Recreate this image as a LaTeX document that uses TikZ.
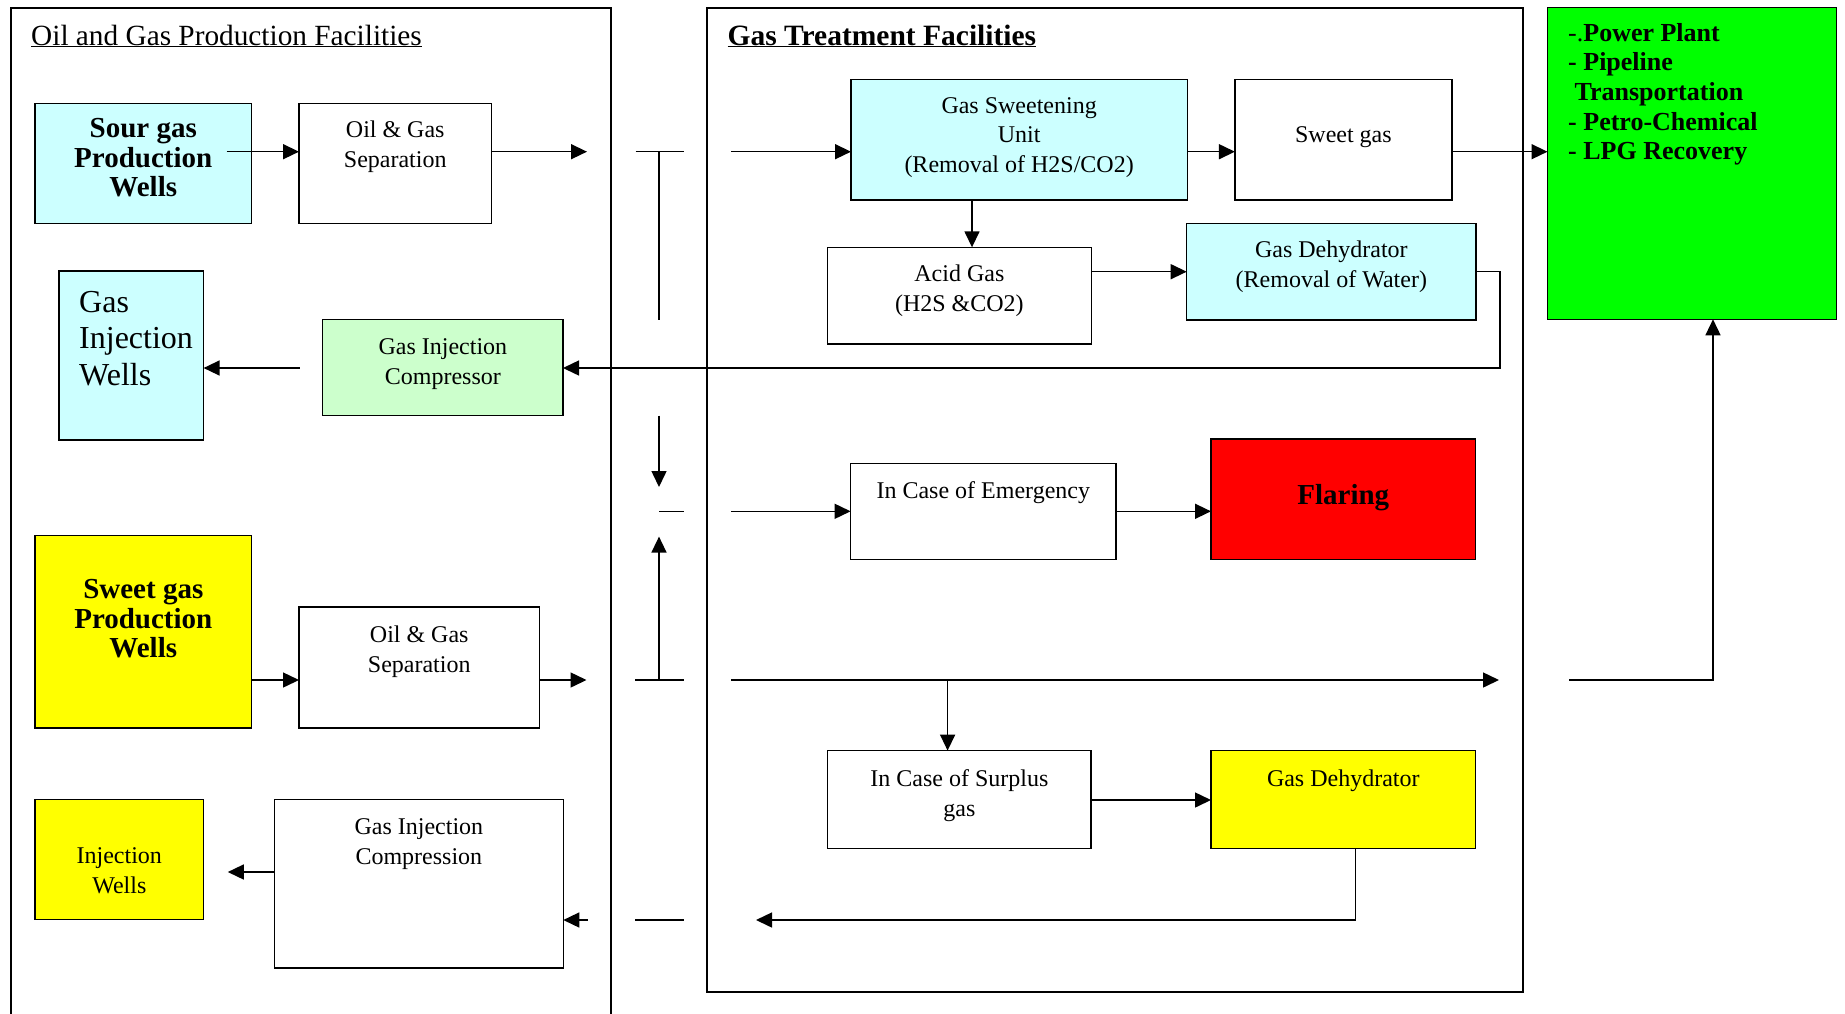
\documentclass[tikz,border=0pt]{standalone}
\usepackage{fontspec}
\setmainfont{Liberation Serif}
\usetikzlibrary{arrows.meta}

\definecolor{paleCyan}{HTML}{CCFFFF}
\definecolor{paleGreen}{HTML}{CCFFCC}
\definecolor{brightGreen}{HTML}{00FF00}
\definecolor{signalRed}{HTML}{FF0000}
\definecolor{brightYellow}{HTML}{FFFF00}

\newcommand\fsz[2]{\fontsize{#1}{#2}\selectfont}

\tikzset{
  box/.style={draw, line width=1.5pt, inner sep=0pt, outer sep=0pt},
  panel/.style={draw, line width=1.3pt},
  flow/.style={line width=1.5pt, -{Triangle[length=16pt,width=15pt]}},
  plain/.style={line width=1.5pt},
  txt/.style={inner sep=0pt, align=center, font=\fsz{24}{29.5}},
  bigtxt/.style={inner sep=0pt, align=center, font=\fsz{29}{29.5}\bfseries},
  titletxt/.style={inner sep=0pt, anchor=base west, font=\fsz{29.3}{30}},
}

\begin{document}
\begin{tikzpicture}[x=1pt,y=-1pt]
\useasboundingbox (0,0) rectangle (1845,1013);

% ---- section frames ----
\draw[panel] (11,1015) -- (11,8) -- (611,8) -- (611,1015);
\draw[panel] (707,8) rectangle (1523,992);

\node[titletxt] (ttlA) at (31,45) {\underline{Oil and Gas Production Facilities}};
\node[titletxt, font=\fsz{29.5}{30}\bfseries] (ttlB) at (727.4,45) {\underline{Gas Treatment Facilities}};

% ---- boxes ----
\node[box, fill=paleCyan, minimum width=216.5pt, minimum height=120.4pt] (sour) at (143.25,163.5) {};
\node[box, minimum width=192.5pt, minimum height=120.4pt] (sep1) at (395.25,163.5) {};
\node[box, fill=paleCyan, minimum width=144.6pt, minimum height=169pt] (giw) at (131.3,355.5) {};
\node[box, fill=paleGreen, minimum width=240.3pt, minimum height=96.4pt] (comp) at (442.85,367.5) {};
\node[box, fill=paleCyan, minimum width=336.3pt, minimum height=120.7pt] (gsu) at (1019.15,139.65) {};
\node[box, minimum width=217pt, minimum height=120.7pt] (sweet) at (1343.4,139.65) {};
\node[box, minimum width=264.1pt, minimum height=96.7pt] (acid) at (959.35,295.65) {};
\node[box, fill=paleCyan, minimum width=289.3pt, minimum height=96.7pt] (dehyd) at (1331.35,271.65) {};
\node[box, fill=brightGreen, minimum width=288.8pt, minimum height=312pt] (green) at (1691.9,163.3) {};
\node[box, minimum width=265.4pt, minimum height=96.1pt] (emerg) at (983.3,511.65) {};
\node[box, fill=signalRed, minimum width=264.6pt, minimum height=120.7pt] (flare) at (1343.3,499.35) {};
\node[box, fill=brightYellow, minimum width=216.6pt, minimum height=192.5pt] (sweetw) at (143.3,631.95) {};
\node[box, minimum width=240.5pt, minimum height=121pt] (sep2) at (419.25,667.7) {};
\node[box, fill=brightYellow, minimum width=168.6pt, minimum height=120.2pt] (injw) at (119.3,859.5) {};
\node[box, minimum width=288.9pt, minimum height=168.6pt] (compn) at (418.85,883.7) {};
\node[box, minimum width=263.3pt, minimum height=97.7pt] (surplus) at (959.35,799.45) {};
\node[box, fill=brightYellow, minimum width=264.6pt, minimum height=97.7pt] (dehydB) at (1343.3,799.45) {};

% ---- box texts ----
\node[bigtxt] (tSour) at (143.25,161.5) {\strut Sour gas\\\strut Production\\\strut Wells};
\node[txt] (tSep1) at (395.25,146.5) {\strut Oil \& Gas\\\strut Separation};
\node[inner sep=0pt, align=left, anchor=west, font=\fsz{32}{36.7}] (tGiw) at (79,341.6) {\strut Gas\\\strut Injection\\\strut Wells};
\node[txt] (tComp) at (442.85,363.5) {\strut Gas Injection\\\strut Compressor};
\node[txt] (tGsu) at (1019.15,137) {\strut Gas Sweetening\\\strut Unit\\\strut (Removal of H2S/CO2)};
\node[txt] (tSweet) at (1343.4,136.8) {\strut Sweet gas};
\node[txt] (tAcid) at (959.35,290.5) {\strut Acid Gas\\\strut (H2S \&CO2)};
\node[txt] (tDehyd) at (1331.35,266.5) {\strut Gas Dehydrator\\\strut (Removal of Water)};
\node[inner sep=0pt, align=left, anchor=west, font=\fsz{26}{29.7}\bfseries] (tGreen) at (1568,94.5)
  {\strut{\mdseries -.}Power Plant\\\strut - Pipeline\\\strut\ Transportation\\\strut - Petro-Chemical\\\strut - LPG Recovery};
\node[txt] (tEmerg) at (983.3,492.8) {\strut In Case of Emergency};
\node[bigtxt] (tFlare) at (1343.3,498.5) {\strut Flaring};
\node[bigtxt] (tSweetw) at (143.3,622.5) {\strut Sweet gas\\\strut Production\\\strut Wells};
\node[txt] (tSep2) at (419.25,651.5) {\strut Oil \& Gas\\\strut Separation};
\node[txt] (tInjw) at (119.3,872.5) {\strut Injection\\\strut Wells};
\node[txt] (tCompn) at (418.85,843.8) {\strut Gas Injection\\\strut Compression};
\node[txt] (tSurplus) at (959.35,795.5) {\strut In Case of Surplus\\\strut gas};
\node[txt] (tDehydB) at (1343.3,780.8) {\strut Gas Dehydrator};

% ---- sour gas train ----
\coordinate (s1) at (226.6,151.7);
\coordinate (o1) at (587,151.7);
\draw[flow] (s1) -- (s1 -| sep1.west);
\draw[flow] (o1 -| sep1.east) -- (o1);

\coordinate (tA) at (635.6,151.7);
\coordinate (tB) at (683.8,151.7);
\coordinate (tC) at (659,151.7);
\coordinate (tD) at (659,320);
\draw[plain] (tA) -- (tB);
\draw[plain] (tC) -- (tD);

\coordinate (g1) at (731,151.7);
\draw[flow] (g1) -- (g1 -| gsu.west);
\draw[flow] (g1 -| gsu.east) -- (g1 -| sweet.west);
\draw[flow] (g1 -| sweet.east) -- (g1 -| green.west);

\coordinate (dn) at (972,0);
\draw[flow] (dn |- gsu.south) -- (dn |- acid.north);
\coordinate (aw) at (0,271.7);
\draw[flow] (aw -| acid.east) -- (aw -| dehyd.west);
\coordinate (rt) at (1500,271.7);
\coordinate (rb) at (1500,368);
\draw[flow] (aw -| dehyd.east) -- (rt) -- (rb) -- (rb -| comp.east);
\coordinate (cw) at (299.7,368);
\draw[flow] (cw) -- (cw -| giw.east);

% ---- emergency branch ----
\coordinate (da) at (659,415.5);
\coordinate (db) at (659,487);
\draw[flow] (da) -- (db);
\coordinate (m1) at (659,511.3);
\coordinate (m2) at (684,511.3);
\draw[plain] (m1) -- (m2);
\coordinate (e1) at (731,511.3);
\draw[flow] (e1) -- (e1 -| emerg.west);
\draw[flow] (e1 -| emerg.east) -- (e1 -| flare.west);
\coordinate (ua) at (659,680);
\coordinate (ub) at (659,536.6);
\draw[flow] (ua) -- (ub);

% ---- sweet gas train ----
\coordinate (bA) at (635,680);
\coordinate (bB) at (684,680);
\draw[plain] (bA) -- (bB);
\coordinate (w2) at (0,680);
\coordinate (o2) at (586.5,680);
\draw[flow] (w2 -| sweetw.east) -- (w2 -| sep2.west);
\draw[flow] (w2 -| sep2.east) -- (o2);
\coordinate (mA) at (731,680);
\coordinate (mB) at (1499,680);
\draw[flow] (mA) -- (mB);
\coordinate (br) at (947.6,680);
\draw[flow] (br) -- (br |- surplus.north);
\coordinate (sp) at (0,800);
\draw[flow] (sp -| surplus.east) -- (sp -| dehydB.west);
\coordinate (rx) at (1355.7,920);
\coordinate (rl) at (756,920);
\draw[flow] (rx |- dehydB.south) -- (rx) -- (rl);
\coordinate (k1) at (635,920);
\coordinate (k2) at (684,920);
\draw[plain] (k1) -- (k2);
\coordinate (ci) at (587.5,920);
\draw[flow] (ci) -- (ci -| compn.east);
\coordinate (cl) at (227.8,872);
\draw[flow] (cl -| compn.west) -- (cl);

\coordinate (q1) at (1569,680);
\coordinate (q2) at (1713,680);
\draw[flow] (q1) -- (q2) -- (q2 |- green.south);
\end{tikzpicture}
\end{document}
